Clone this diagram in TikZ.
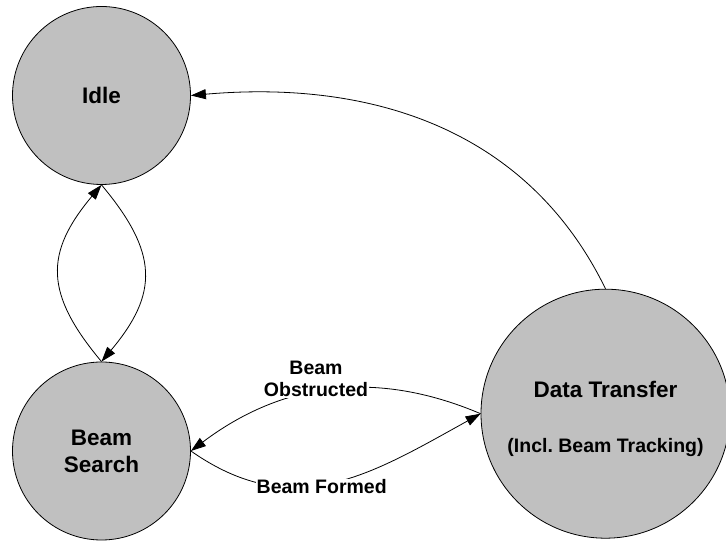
\documentclass[tikz,border=0pt]{standalone}
\usepackage{fontspec}
\setmainfont{Liberation Sans}
\usetikzlibrary{arrows.meta}
\tikzset{
  state/.style={circle, draw=black, line width=0.8pt, fill=statefill, inner sep=0pt, align=center,
    font=\fontsize{22.5}{27}\selectfont\bfseries},
  arr/.style={line width=0.8pt, -{Triangle[length=15pt,width=10pt]}},
  lbl/.style={fill=white, inner sep=1pt, align=center, font=\fontsize{19.5}{22.5}\selectfont\bfseries}
}
\definecolor{statefill}{HTML}{C0C0C0}
\begin{document}
\begin{tikzpicture}[x=1pt,y=1pt]
\useasboundingbox (0,0) rectangle (726,543);
\node[state, minimum size=178pt] (idle) at (101.5,447.5) {Idle};
\node[state, minimum size=178pt] (bs) at (101.5,92) {Beam\\Search};
\node[state, minimum size=249pt] (dt) at (605.5,129.3) {\rule{0pt}{26pt}Data Transfer\\[28pt]{\fontsize{19.5}{22}\selectfont(Incl.\ Beam Tracking)}};
\draw[arr] (bs.north) to[out=130,in=230,looseness=1.29] (idle.south);
\draw[arr] (idle.south) to[out=-50,in=50,looseness=1.29] (bs.north);
\draw[arr] (dt.north) to[out=116,in=5] (idle.east);
\draw[arr] (dt.west) to[out=157,in=37] (bs.east);
\draw[arr] (bs.east) to[out=-35,in=209,looseness=1.1] (dt.west);
\node[lbl] (lobs) at (316,164) {Beam\\Obstructed};
\node[lbl] (lform) at (321.7,56.3) {Beam Formed};
\end{tikzpicture}
\end{document}
